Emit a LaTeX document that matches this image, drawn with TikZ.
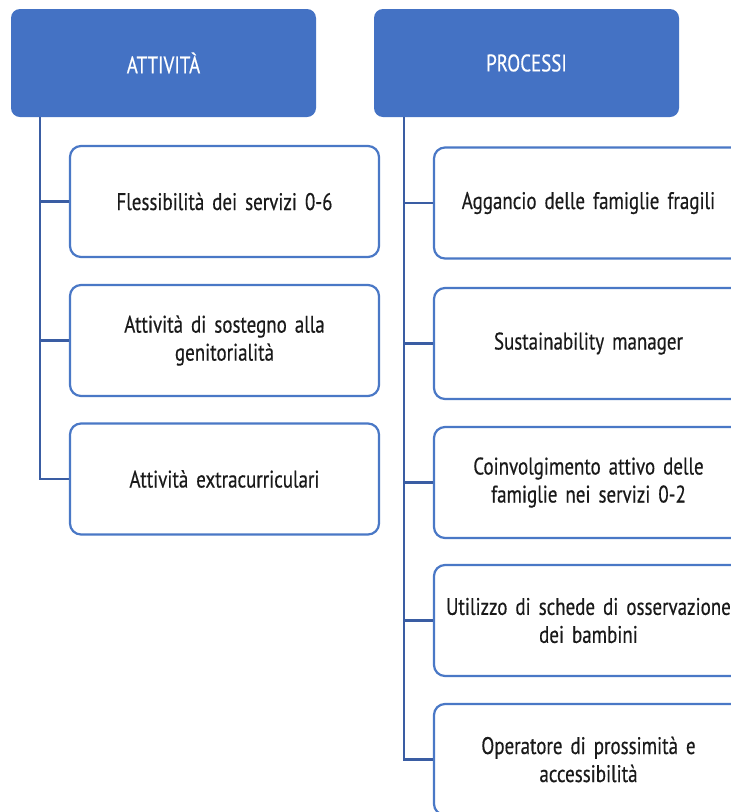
\documentclass[tikz,border=0pt]{standalone}
\usepackage{fontspec}
\setmainfont[FakeStretch=0.79,FakeBold=0.4]{PT Sans}
\definecolor{hdrblue}{HTML}{4472C4}
\definecolor{edgeblue}{HTML}{4A78C6}
\definecolor{linkblue}{HTML}{3A5DA3}
\definecolor{txt}{HTML}{1A1A1A}
% tighter word gaps for the box labels
\newcommand{\boxfont}{\fontsize{24}{28}\selectfont\spaceskip=4.2pt plus 2pt minus 1pt\relax}
\begin{document}
\begin{tikzpicture}[x=1pt,y=-1pt,
  header/.style={rectangle,rounded corners=9pt,fill=hdrblue,draw=none,
    minimum width=305pt,minimum height=108pt,inner sep=0pt,
    text=white,font=\boxfont},
  leaf/.style={rectangle,rounded corners=11pt,draw=edgeblue,line width=2.2pt,fill=white,
    minimum width=309pt,minimum height=111pt,inner sep=0pt,
    text width=300pt,align=center,text=txt,font=\boxfont},
  link/.style={draw=linkblue,line width=2.6pt}]
\useasboundingbox (0,0) rectangle (731,812);
\clip (0,0) rectangle (731,812);
\fill[white] (0,0) rectangle (731,812);

% column headers
\node[header] (hA) at (163.5,63) {ATTIVITÀ};
\node[header] (hP) at (526.5,63) {PROCESSI};

% trunk tops
\coordinate (tA) at (40,117);
\coordinate (tP) at (404,117);

% left column
\node[leaf] (a1) at (224.5,201.5) {Flessibilità dei servizi 0-6};
\node[leaf] (a2) at (224.5,340.5) {Attività di sostegno alla\\genitorialità};
\node[leaf] (a3) at (224.5,479) {Attività extracurriculari};

% right column
\node[leaf] (p1) at (588.5,203) {Aggancio delle famiglie fragili};
\node[leaf] (p2) at (588.5,343.5) {Sustainability manager};
\node[leaf] (p3) at (588.5,482.5) {Coinvolgimento attivo delle\\famiglie nei servizi 0-2};
\node[leaf] (p4) at (588.5,620.5) {Utilizzo di schede di osservazione\\dei bambini};
\node[leaf] (p5) at (588.5,759.5) {Operatore di prossimità e\\accessibilità};

% connectors
\foreach \c in {a1,a2,a3} \draw[link] (tA) |- (\c.west);
\foreach \c in {p1,p2,p3,p4,p5} \draw[link] (tP) |- (\c.west);
\end{tikzpicture}
\end{document}
